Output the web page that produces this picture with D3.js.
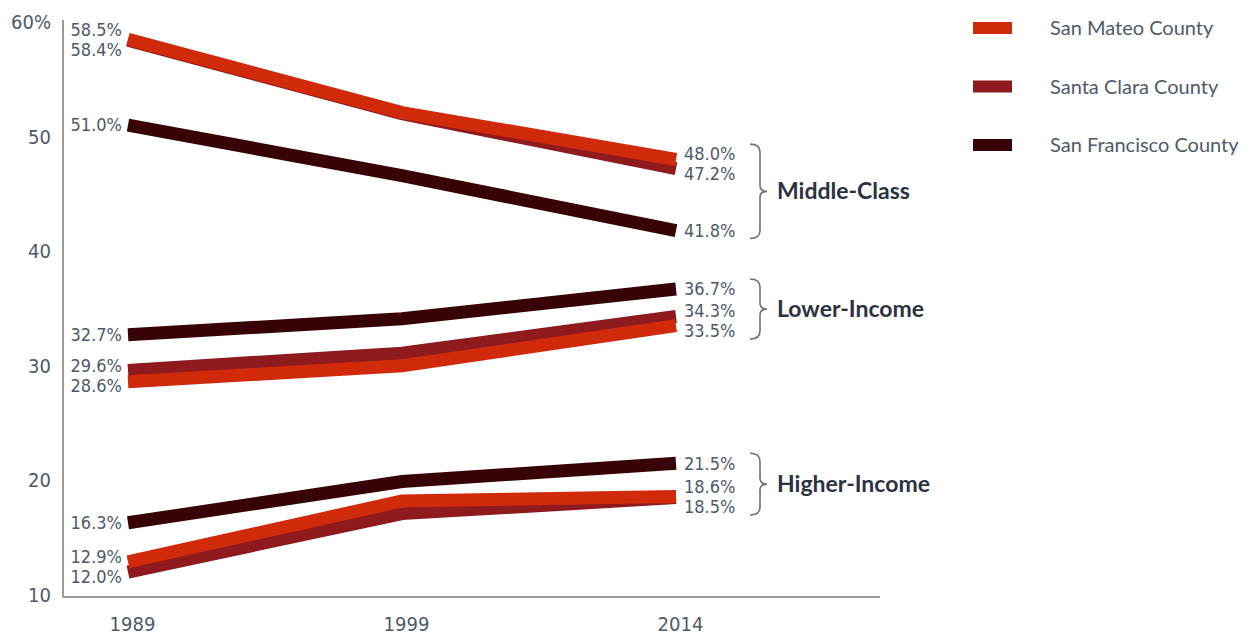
<!DOCTYPE html>
<html>
<head>
<meta charset="utf-8">
<script src="https://cdn.jsdelivr.net/npm/d3@7"></script>
<style>
  body { margin: 0; background: #fff; }
  svg text { font-family: "DejaVu Sans Condensed", "Liberation Sans Narrow", sans-serif; }
  .legend text, .group-label { font-family: Lato, "Open Sans", sans-serif; }
</style>
</head>
<body>
<div id="chart"></div>
<script>
// Share of households by income group, 1989 / 1999 / 2014

const years = ["1989", "1999", "2014"];
const counties = ["San Mateo County", "Santa Clara County", "San Francisco County"];
const groups = ["Middle-Class", "Lower-Income", "Higher-Income"];
const yTicks = [10, 20, 30, 40, 50, 60];

// values per county, per income group (percent)
const sanMateoMiddle = [58.5, 52.1, 48.0];
const santaClaraMiddle = [58.4, 52.0, 47.2];
const sanFranciscoMiddle = [51.0, 46.6, 41.8];

const sanMateoLower = [28.6, 30.0, 33.5];
const santaClaraLower = [29.6, 31.1, 34.3];
const sanFranciscoLower = [32.7, 34.1, 36.7];

const sanMateoHigher = [12.9, 18.2, 18.6];
const santaClaraHigher = [12.0, 17.1, 18.5];
const sanFranciscoHigher = [16.3, 19.9, 21.5];

const colors = ["#d02a0b", "#8e1a1e", "#380307"];

const width = 1251,
  height = 636;

// county index: 0 San Mateo, 1 Santa Clara, 2 San Francisco (SM drawn last, on top)
const series = [
  { county: 2, group: 0, values: sanFranciscoMiddle },
  { county: 1, group: 0, values: santaClaraMiddle },
  { county: 0, group: 0, values: sanMateoMiddle },
  { county: 2, group: 1, values: sanFranciscoLower },
  { county: 1, group: 1, values: santaClaraLower },
  { county: 0, group: 1, values: sanMateoLower },
  { county: 2, group: 2, values: sanFranciscoHigher },
  { county: 1, group: 2, values: santaClaraHigher },
  { county: 0, group: 2, values: sanMateoHigher }
];

const svg = d3.select("#chart")
  .append("svg")
  .attr("width", width)
  .attr("height", height);

const x = d3.scalePoint()
  .domain(years)
  .range([128, 676]);

const y = d3.scaleLinear()
  .domain([10, 60])
  .range([595, 22]);

// axes
const yAxis = svg.append("g")
  .attr("transform", "translate(63,0)")
  .call(d3.axisLeft(y).tickValues(yTicks).tickSize(0).tickPadding(12)
    .tickFormat(d => d === 60 ? d + "%" : d));
yAxis.select(".domain").attr("stroke", "#9a9a9a").attr("stroke-width", 2).attr("d", `M0,${y(60) - 2}V${y(10) + 2}`);
yAxis.selectAll("text").attr("font-size", 20).attr("fill", "#4e5a69")
  .style("font-family", "'DejaVu Sans Condensed', sans-serif");

const xAxis = svg.append("g")
  .attr("transform", `translate(0,${y(10) + 2})`)
  .call(d3.axisBottom(x).tickSize(0).tickPadding(20));
xAxis.select(".domain").attr("stroke", "#9a9a9a").attr("stroke-width", 2).attr("d", "M63,0H880");
xAxis.selectAll("text").attr("font-size", 20).attr("fill", "#4e5a69")
  .attr("dx", 4)
  .style("font-family", "'DejaVu Sans Condensed', sans-serif");

// lines
const line = d3.line()
  .x((d, i) => x(years[i]))
  .y(d => y(d));

svg.append("g")
  .selectAll("path")
  .data(series)
  .join("path")
  .attr("d", d => line(d.values))
  .attr("fill", "none")
  .attr("stroke", d => colors[d.county])
  .attr("stroke-width", 13)
  .attr("stroke-linecap", "butt");

// end labels, pushed apart so they don't collide
function spread(items, gap) {
  items.sort((a, b) => a.y - b.y);
  for (let iter = 0; iter < 20; iter++) {
    for (let i = 1; i < items.length; i++) {
      const d = items[i].y - items[i - 1].y;
      if (d < gap) {
        const push = (gap - d) / 2;
        items[i - 1].y -= push;
        items[i].y += push;
      }
    }
  }
  return items;
}

const labelLayer = svg.append("g");
const groupExtents = groups.map(() => []);

[0, 2].forEach(idx => {
  const items = series.map(s => ({ v: s.values[idx], y: y(s.values[idx]), group: s.group }));
  spread(items, 20);
  labelLayer.append("g")
    .selectAll("text")
    .data(items)
    .join("text")
    .attr("x", idx === 0 ? x(years[0]) - 6 : x(years[2]) + 8)
    .attr("y", d => d.y)
    .attr("dy", "0.35em")
    .attr("text-anchor", idx === 0 ? "end" : "start")
    .attr("font-size", 18)
    .attr("fill", "#4e5a69")
    .text(d => d.v.toFixed(1) + "%");
  if (idx === 2) items.forEach(d => groupExtents[d.group].push(d.y));
});

// braces + group names
function brace(x0, y0, y1) {
  const xs = x0 + 10, xt = x0 + 17, ym = (y0 + y1) / 2;
  return `M${x0},${y0}Q${xs},${y0} ${xs},${y0 + 8}L${xs},${ym - 6}Q${xs},${ym} ${xt},${ym}` +
    `Q${xs},${ym} ${xs},${ym + 6}L${xs},${y1 - 8}Q${xs},${y1} ${x0},${y1}`;
}

groups.forEach((g, i) => {
  const top = d3.min(groupExtents[i]) - 10,
    bottom = d3.max(groupExtents[i]) + 8;
  svg.append("path")
    .attr("d", brace(750, top, bottom))
    .attr("fill", "none")
    .attr("stroke", "#6a7280")
    .attr("stroke-width", 1.6);
  svg.append("text")
    .attr("class", "group-label")
    .attr("x", 777)
    .attr("y", (top + bottom) / 2)
    .attr("dy", "0.35em")
    .attr("font-size", 23)
    .attr("font-weight", 700)
    .attr("fill", "#2b3241")
    .text(g);
});

// legend
const legend = svg.append("g")
  .attr("class", "legend")
  .selectAll("g")
  .data(counties)
  .join("g")
  .attr("transform", (d, i) => `translate(973,${28 + i * 58.5})`);

legend.append("rect")
  .attr("x", 0)
  .attr("y", -6)
  .attr("width", 39)
  .attr("height", 12)
  .attr("fill", (d, i) => colors[i]);

legend.append("text")
  .attr("x", 77)
  .attr("dy", "0.35em")
  .attr("font-size", 20)
  .attr("fill", "#4e5a69")
  .text(d => d);
</script>
</body>
</html>
